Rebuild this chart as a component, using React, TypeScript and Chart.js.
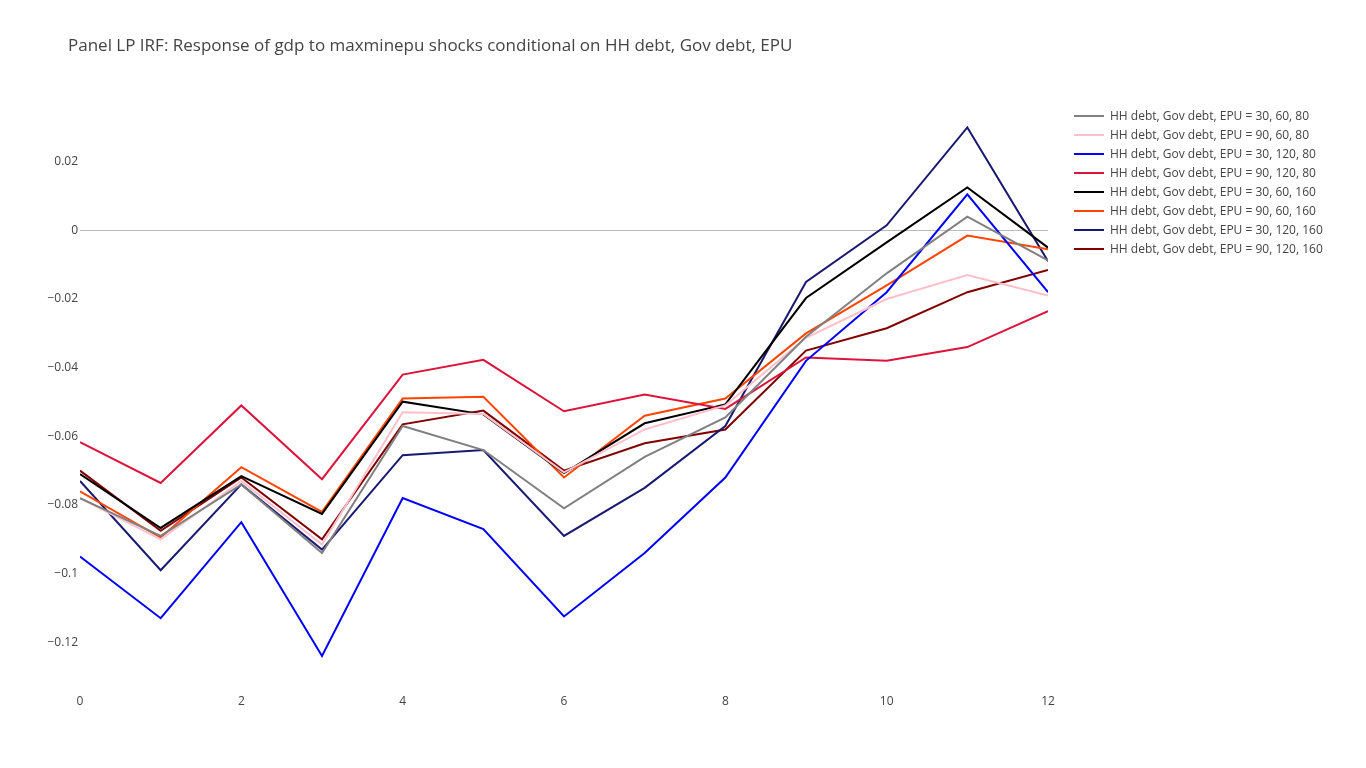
import React, { useEffect, useRef } from "react";
import Chart from "chart.js/auto";

const STEPS = [0, 1, 2, 3, 4, 5, 6, 7, 8, 9, 10, 11, 12];
const X_TICKS = [0, 2, 4, 6, 8, 10, 12];
const Y_TICKS = [0.02, 0, -0.02, -0.04, -0.06, -0.08, -0.1, -0.12];

const LABELS = [
  "HH debt, Gov debt, EPU = 30, 60, 80",
  "HH debt, Gov debt, EPU = 90, 60, 80",
  "HH debt, Gov debt, EPU = 30, 120, 80",
  "HH debt, Gov debt, EPU = 90, 120, 80",
  "HH debt, Gov debt, EPU = 30, 60, 160",
  "HH debt, Gov debt, EPU = 90, 60, 160",
  "HH debt, Gov debt, EPU = 30, 120, 160",
  "HH debt, Gov debt, EPU = 90, 120, 160",
];
const COLORS = ["#808080", "#ffc0cb", "#0000ff", "#dc143c", "#000000", "#ff4500", "#191970", "#800000"];

const S_30_60_80 = [-0.078, -0.089, -0.074, -0.094, -0.057, -0.064, -0.081, -0.066, -0.0545, -0.031, -0.0125, 0.004, -0.0087];
const S_90_60_80 = [-0.078, -0.09, -0.073, -0.0915, -0.053, -0.0535, -0.0705, -0.058, -0.051, -0.0313, -0.02, -0.013, -0.019];
const S_30_120_80 = [-0.095, -0.113, -0.085, -0.124, -0.078, -0.087, -0.1125, -0.094, -0.072, -0.038, -0.018, 0.0105, -0.018];
const S_90_120_80 = [-0.0617, -0.0736, -0.051, -0.0725, -0.042, -0.0377, -0.0527, -0.0478, -0.052, -0.037, -0.038, -0.034, -0.0235];
const S_30_60_160 = [-0.071, -0.0867, -0.0716, -0.0826, -0.0499, -0.0536, -0.0707, -0.0562, -0.0507, -0.0197, -0.0035, 0.0125, -0.005];
const S_90_60_160 = [-0.076, -0.0895, -0.069, -0.082, -0.049, -0.0485, -0.072, -0.054, -0.049, -0.03, -0.016, -0.0015, -0.0055];
const S_30_120_160 = [-0.073, -0.099, -0.074, -0.093, -0.0655, -0.064, -0.089, -0.075, -0.057, -0.015, 0.0015, 0.03, -0.009];
const S_90_120_160 = [-0.07, -0.0875, -0.072, -0.09, -0.0565, -0.0525, -0.07, -0.062, -0.058, -0.035, -0.0285, -0.018, -0.0115];

const SERIES = [S_30_60_80, S_90_60_80, S_30_120_80, S_90_120_80, S_30_60_160, S_90_60_160, S_30_120_160, S_90_120_160];

const FONT = "'Open Sans', 'DejaVu Sans', sans-serif";

const fmt = (v: number) => {
  const s = String(Math.round(v * 1000) / 1000);
  return s.replace("-", "\u2212");
};

export default function App() {
  const canvasRef = useRef<HTMLCanvasElement | null>(null);

  useEffect(() => {
    const ctx = canvasRef.current;
    if (!ctx) return;
    const chart = new Chart(ctx, {
      type: "line",
      data: {
        datasets: SERIES.map((s, i) => ({
          label: LABELS[i],
          data: s.map((y, j) => ({ x: STEPS[j], y })),
          borderColor: COLORS[i],
          borderWidth: 2,
          pointRadius: 0,
          tension: 0,
          fill: false,
        })),
      },
      options: {
        animation: false,
        responsive: false,
        layout: { padding: { top: 100, right: 318, bottom: 0, left: 0 } },
        plugins: { legend: { display: false }, tooltip: { enabled: false } },
        scales: {
          x: {
            type: "linear",
            min: 0,
            max: 12,
            border: { display: false },
            grid: { display: false },
            afterBuildTicks: (a: any) => {
              a.ticks = X_TICKS.map((value) => ({ value }));
            },
            afterFit: (a: any) => {
              a.height = 88;
            },
            ticks: { color: "#444", font: { family: FONT, size: 12 }, padding: 6, maxRotation: 0 },
          },
          y: {
            min: -0.131,
            max: 0.038,
            border: { display: false },
            grid: {
              drawTicks: false,
              color: (c: any) => (c.tick && c.tick.value === 0 ? "#bbbbbb" : "rgba(0,0,0,0)"),
              lineWidth: 1,
            },
            afterBuildTicks: (a: any) => {
              a.ticks = Y_TICKS.map((value) => ({ value }));
            },
            afterFit: (a: any) => {
              a.width = 80;
            },
            ticks: {
              color: "#444",
              font: { family: FONT, size: 12 },
              padding: 2,
              callback: (v: any) => fmt(Number(v)),
            },
          },
        },
      },
    });
    return () => chart.destroy();
  }, []);

  return (
    <div style={{ position: "absolute", left: 0, top: 0, width: 1366, height: 768, background: "#fff", fontFamily: FONT }}>
      <canvas ref={canvasRef} width={1366} height={768} style={{ position: "absolute", left: 0, top: 0 }} />
      <div style={{ position: "absolute", left: 68, top: 33, fontSize: 17, color: "#444" }}>
        Panel LP IRF: Response of gdp to maxminepu shocks conditional on HH debt, Gov debt, EPU
      </div>
      <div style={{ position: "absolute", left: 1074, top: 106, fontSize: 12, color: "#444" }}>
        {LABELS.map((l, i) => (
          <div key={l} style={{ display: "flex", alignItems: "center", height: 19 }}>
            <span style={{ display: "inline-block", width: 30, height: 2, background: COLORS[i], marginRight: 6 }} />
            {l}
          </div>
        ))}
      </div>
    </div>
  );
}
